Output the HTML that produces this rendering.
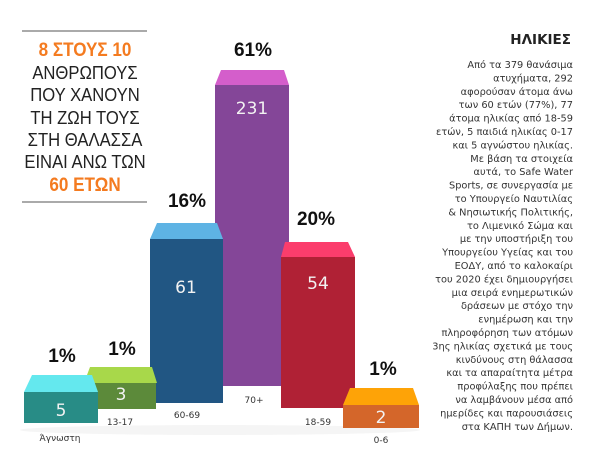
<!DOCTYPE html>
<html><head><meta charset="utf-8"><style>
html,body{margin:0;padding:0;background:#fff;}
svg{display:block;}
.p{font-family:"Liberation Sans","DejaVu Sans",sans-serif;font-weight:bold;font-size:19px;fill:#111;text-anchor:middle;}
.v{font-family:"DejaVu Sans","Liberation Sans",sans-serif;font-size:17px;fill:#f2f2f2;text-anchor:middle;}
.c{font-family:"DejaVu Sans","Liberation Sans",sans-serif;font-size:9px;fill:#333;text-anchor:middle;}
.l{font-family:"Liberation Sans","DejaVu Sans",sans-serif;font-size:18.5px;fill:#222;text-anchor:middle;}
.o{font-family:"Liberation Sans","DejaVu Sans",sans-serif;font-size:19px;font-weight:bold;fill:#f47b20;text-anchor:middle;}
.r{font-family:"DejaVu Sans","Liberation Sans",sans-serif;font-size:9.8px;fill:#333;text-anchor:end;}
</style></head><body>
<svg width="600" height="464" viewBox="0 0 600 464" xmlns="http://www.w3.org/2000/svg">
<line x1="22" y1="31" x2="147" y2="31" stroke="#555" stroke-width="1"/>
<line x1="22" y1="202" x2="147" y2="202" stroke="#555" stroke-width="1"/>
<g transform="translate(85,0) scale(0.9,1)">
<text class="o" x="0" y="56">8 ΣΤΟΥΣ 10</text>
<text class="l" x="0" y="79">ΑΝΘΡΩΠΟΥΣ</text>
<text class="l" x="0" y="101">ΠΟΥ ΧΑΝΟΥΝ</text>
<text class="l" x="0" y="124">ΤΗ ΖΩΗ ΤΟΥΣ</text>
<text class="l" x="0" y="146">ΣΤΗ  ΘΑΛΑΣΣΑ</text>
<text class="l" x="0" y="168">ΕΙΝΑΙ ΑΝΩ ΤΩΝ</text>
<text class="o" x="0" y="191">60 ΕΤΩΝ</text>
</g>

<ellipse cx="220" cy="430" rx="200" ry="5" fill="#f5f5f5"/>

<polygon points="221,70 284,70 289,85 215,85" fill="#d45ecb"/>
<rect x="215" y="85" width="74" height="301" fill="#844698"/>
<polygon points="157,223 217,223 223,239 150,239" fill="#5eb3e4"/>
<rect x="150" y="239" width="73" height="164" fill="#215683"/>
<polygon points="285,242 348,242 355,257 281,257" fill="#fb3d6c"/>
<rect x="281" y="257" width="74" height="151" fill="#b02135"/>
<polygon points="90,367 152,367 157,383 84,383" fill="#a8d84a"/>
<rect x="86" y="383" width="70" height="26" fill="#5c8a3a"/>
<polygon points="32,375 92,375 98,392 24,392" fill="#64e8ee"/>
<rect x="24" y="392" width="74" height="31" fill="#288c86"/>
<polygon points="350,388 413,388 419,405 343,405" fill="#fea307"/>
<rect x="343" y="405" width="76" height="23" fill="#d4662a"/>

<text class="p" x="62" y="362">1%</text>
<text class="p" x="122" y="355">1%</text>
<text class="p" x="187" y="207">16%</text>
<text class="p" x="253" y="56">61%</text>
<text class="p" x="316" y="225">20%</text>
<text class="p" x="383" y="375">1%</text>

<text class="v" x="61" y="416">5</text>
<text class="v" x="121" y="400">3</text>
<text class="v" x="186" y="293">61</text>
<text class="v" x="252" y="114">231</text>
<text class="v" x="318" y="289">54</text>
<text class="v" x="381" y="423">2</text>

<text class="c" x="60" y="441">Άγνωστη</text>
<text class="c" x="120" y="425">13-17</text>
<text class="c" x="187" y="418">60-69</text>
<text class="c" x="254" y="403">70+</text>
<text class="c" x="318" y="425">18-59</text>
<text class="c" x="381" y="443">0-6</text>

<text x="571" y="44" font-family="DejaVu Sans,Liberation Sans,sans-serif" font-weight="bold" font-size="13.5" fill="#222" text-anchor="end">ΗΛΙΚΙΕΣ</text>
<text class="r" x="573" y="68">Από τα 379 θανάσιμα</text>
<text class="r" x="573" y="81.4">ατυχήματα, 292</text>
<text class="r" x="573" y="94.8">αφορούσαν άτομα άνω</text>
<text class="r" x="573" y="108.2">των 60 ετών (77%), 77</text>
<text class="r" x="573" y="121.6">άτομα ηλικίας από 18-59</text>
<text class="r" x="573" y="135">ετών, 5 παιδιά ηλικίας 0-17</text>
<text class="r" x="573" y="148.4">και 5 αγνώστου ηλικίας.</text>
<text class="r" x="573" y="161.8">Με βάση τα στοιχεία</text>
<text class="r" x="573" y="175.2">αυτά, το Safe Water</text>
<text class="r" x="573" y="188.6">Sports, σε συνεργασία με</text>
<text class="r" x="573" y="202">το Υπουργείο Ναυτιλίας</text>
<text class="r" x="573" y="215.4">&amp; Νησιωτικής Πολιτικής,</text>
<text class="r" x="573" y="228.8">το Λιμενικό Σώμα και</text>
<text class="r" x="573" y="242.2">με την υποστήριξη του</text>
<text class="r" x="573" y="255.6">Υπουργείου Υγείας και του</text>
<text class="r" x="573" y="269">ΕΟΔΥ, από το καλοκαίρι</text>
<text class="r" x="573" y="282.4">του 2020 έχει δημιουργήσει</text>
<text class="r" x="573" y="295.8">μια σειρά ενημερωτικών</text>
<text class="r" x="573" y="309.2">δράσεων με στόχο την</text>
<text class="r" x="573" y="322.6">ενημέρωση και την</text>
<text class="r" x="573" y="336">πληροφόρηση των ατόμων</text>
<text class="r" x="573" y="349.4">3ης ηλικίας σχετικά με τους</text>
<text class="r" x="573" y="362.8">κινδύνους στη θάλασσα</text>
<text class="r" x="573" y="376.2">και τα απαραίτητα μέτρα</text>
<text class="r" x="573" y="389.6">προφύλαξης που πρέπει</text>
<text class="r" x="573" y="403">να λαμβάνουν μέσα από</text>
<text class="r" x="573" y="416.4">ημερίδες και παρουσιάσεις</text>
<text class="r" x="573" y="429.8">στα ΚΑΠΗ των Δήμων.</text>
</svg>
</body></html>
